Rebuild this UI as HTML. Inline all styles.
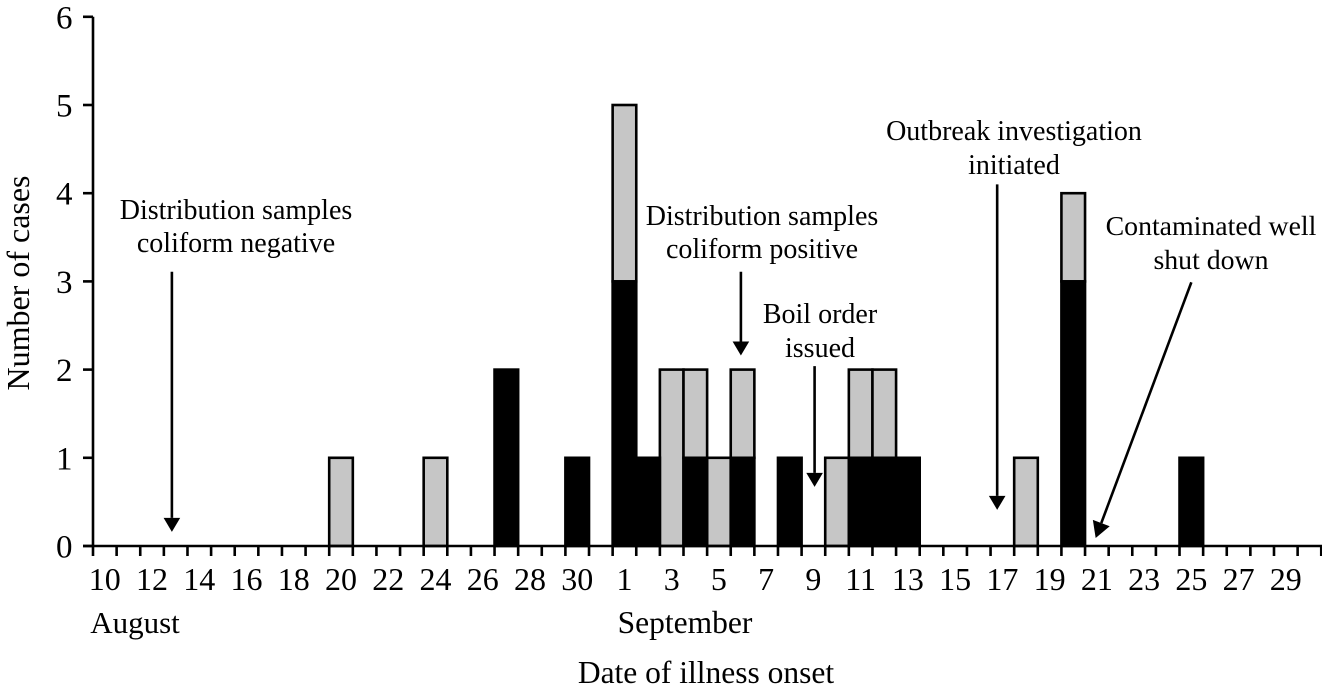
<!DOCTYPE html>
<html>
<head>
<meta charset="utf-8">
<title>Epidemic curve</title>
<style>
html,body{margin:0;padding:0;background:#fff;}
svg{display:block;}
text{font-family:"Liberation Serif",serif;fill:#000;}
</style>
</head>
<body>
<svg id="chart" xmlns="http://www.w3.org/2000/svg" width="1322" height="691" viewBox="0 0 1322 691"></svg>
<script>
// Days on the x axis (August 10 .. September 30)
const dayLabels = ["10","","12","","14","","16","","18","","20","","22","","24","","26","","28","","30","","1","","3","","5","","7","","9","","11","","13","","15","","17","","19","","21","","23","","25","","27","","29",""];
const dayCount = 52;
const yTicks = [0,1,2,3,4,5,6];
// Case counts by day index
const confirmedDays = [17,20,22,23,25,27,29,32,33,34,41,46];
const confirmedValues = [2,1,3,1,1,1,1,1,1,1,3,1];
const suspectDays = [10,14,22,24,25,26,27,31,32,33,39,41];
const suspectValues = [1,1,2,2,1,1,1,1,1,1,1,1];

const NS = "http://www.w3.org/2000/svg";
const svg = document.getElementById("chart");
const X0 = 93, STEP = 23.62, Y0 = 546, YSTEP = 88.2;
const xScale = d => X0 + d * STEP;
const yScale = v => Y0 - v * YSTEP;

function make(tag, attrs, parent, text) {
  const el = document.createElementNS(NS, tag);
  for (const k in attrs) el.setAttribute(k, attrs[k]);
  if (text !== undefined) el.textContent = text;
  (parent || svg).appendChild(el);
  return el;
}

function confirmedAt(d) {
  const i = confirmedDays.indexOf(d);
  return i < 0 ? 0 : confirmedValues[i];
}

// Bars
const barsLayer = make("g", {});


suspectDays.forEach((d, i) => {
  const base = confirmedAt(d);
  const r = make("rect", {x: xScale(d), y: yScale(base + suspectValues[i]), width: STEP, height: suspectValues[i] * YSTEP, fill: "#c6c6c6", stroke: "#000", "stroke-width": 2.6}, barsLayer);
  
  
});
confirmedDays.forEach((d, i) => {
  const r = make("rect", {x: xScale(d), y: yScale(confirmedValues[i]), width: STEP, height: confirmedValues[i] * YSTEP, fill: "#000", stroke: "#000", "stroke-width": 2.6}, barsLayer);
  
  
});

// Axes
const axisLayer = make("g", {stroke: "#000", "stroke-width": 2.6, fill: "none"});


const yLine = make("line", {x1: X0, y1: yScale(6), x2: X0, y2: Y0}, axisLayer);


const xLine = make("line", {x1: X0 - 10, y1: Y0, x2: 1322, y2: Y0}, axisLayer);



yTicks.forEach(v => {
  const t = make("line", {x1: X0 - 10, y1: yScale(v), x2: X0, y2: yScale(v)}, axisLayer);
  
  
  const l = make("text", {x: 72.5, y: yScale(v) + 11.5, "text-anchor": "end", "font-size": 33}, svg, String(v));
  
  
});
for (let d = 0; d <= dayCount; d++) {
  const t = make("line", {x1: xScale(d), y1: Y0, x2: xScale(d), y2: Y0 + 10}, axisLayer);
  
  
  if (dayLabels[d]) {
    const l = make("text", {x: xScale(d + 0.5), y: 590, "text-anchor": "middle", "font-size": 32}, svg, dayLabels[d]);
    
    
  }
}

// Annotation arrows: [startDay, startValue, tipDay, tipValue]
const arrowStarts = [[3.34,3.11],[27.43,3.11],[30.55,2.04],[38.28,4.1],[46.5,2.99]];
const arrowTips = [[3.34,0.16],[27.43,2.16],[30.55,0.67],[38.28,0.41],[42.45,0.09]];
arrowStarts.forEach((s, i) => {
  const x1 = xScale(s[0]), y1 = yScale(s[1]), x2 = xScale(arrowTips[i][0]), y2 = yScale(arrowTips[i][1]);
  const a = Math.atan2(y2 - y1, x2 - x1), ux = Math.cos(a), uy = Math.sin(a), len = (i === 4 ? 16 : 14), hw = (i === 4 ? 9 : 8.3);
  const bx = x2 - ux * len, by = y2 - uy * len;
  const g = make("g", {});
  
  
  make("line", {x1: x1, y1: y1, x2: bx, y2: by, stroke: "#000", "stroke-width": 2.6}, g);
  make("polygon", {points: `${x2},${y2} ${bx - uy * hw},${by + ux * hw} ${bx + uy * hw},${by - ux * hw}`, fill: "#000"}, g);
});
</script>
<script>
// Static text labels
(function () {
  const s = document.getElementById("chart");
  const ns = "http://www.w3.org/2000/svg";
  const notes = [
    ["Distribution samples", 236, 219, 28, "annotation-negative-line1"],
    ["coliform negative", 236, 252, 28, "annotation-negative-line2"],
    ["Distribution samples", 762, 225, 28, "annotation-positive-line1"],
    ["coliform positive", 762, 258, 28, "annotation-positive-line2"],
    ["Boil order", 820, 323, 28, "annotation-boil-line1"],
    ["issued", 820, 357, 28, "annotation-boil-line2"],
    ["Outbreak investigation", 1014, 140, 28, "annotation-outbreak-line1"],
    ["initiated", 1014, 174, 28, "annotation-outbreak-line2"],
    ["Contaminated well", 1211, 235, 27.8, "annotation-well-line1"],
    ["shut down", 1211, 269, 27.8, "annotation-well-line2"],
    ["August", 135, 633, 31, "month-august"],
    ["September", 685, 633, 31.5, "month-september"],
    ["Date of illness onset", 706, 683, 31.5, "x-axis-title"]
  ];
  notes.forEach(n => {
    const t = document.createElementNS(ns, "text");
    t.setAttribute("x", n[1]);
    t.setAttribute("y", n[2]);
    t.setAttribute("font-size", n[3]);
    t.setAttribute("text-anchor", "middle");
    
    
    t.textContent = n[0];
    s.appendChild(t);
  });
  const yt = document.createElementNS(ns, "text");
  yt.setAttribute("transform", "translate(29,283) rotate(-90)");
  yt.setAttribute("font-size", 32);
  yt.setAttribute("text-anchor", "middle");
  
  
  yt.textContent = "Number of cases";
  s.appendChild(yt);
})();
</script>
</body>
</html>
